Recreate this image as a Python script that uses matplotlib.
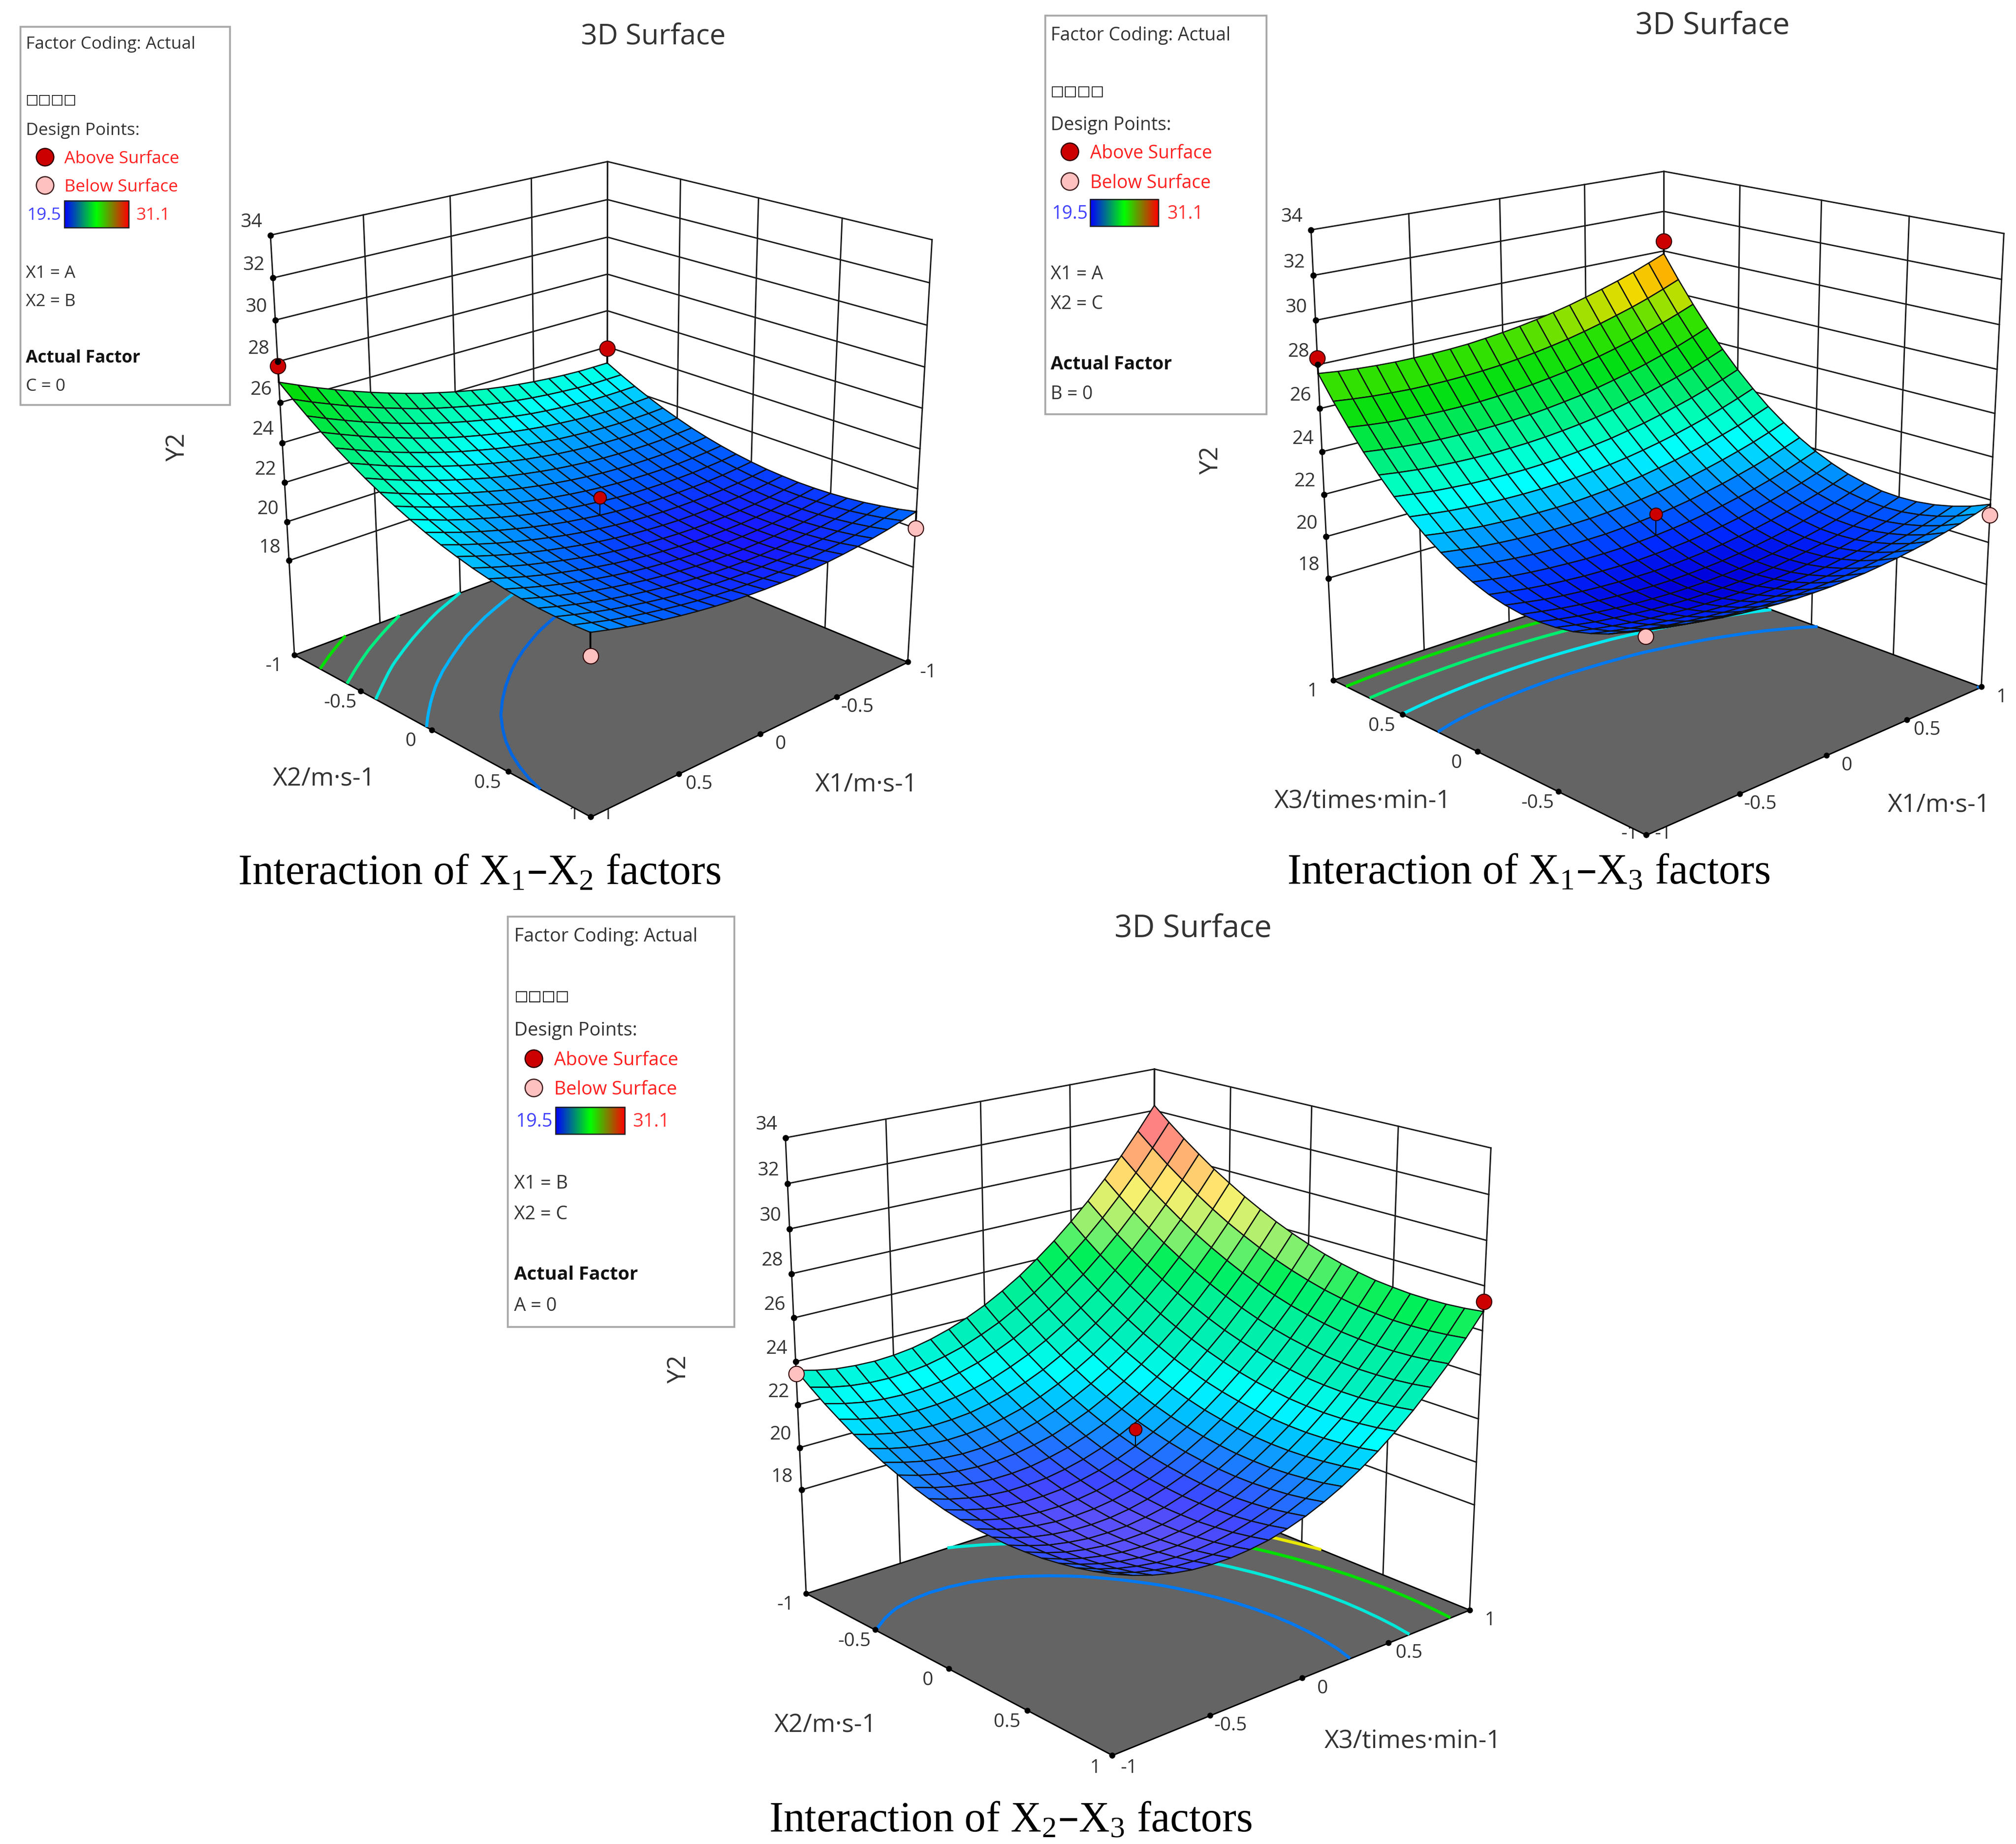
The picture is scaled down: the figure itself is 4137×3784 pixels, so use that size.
import numpy as np
import matplotlib
matplotlib.use('Agg')
import matplotlib.pyplot as plt
from matplotlib.colors import LinearSegmentedColormap, Normalize
from matplotlib.patches import Rectangle
from mpl_toolkits.mplot3d import proj3d

plt.rcParams['font.family'] = ['Open Sans', 'DejaVu Sans']
plt.rcParams['mathtext.default'] = 'regular'

# Coded factor levels of the mesh nodes
coded = [-1.0, -0.9, -0.8, -0.7, -0.6, -0.5, -0.4, -0.3, -0.2, -0.1, 0.0,
         0.1, 0.2, 0.3, 0.4, 0.5, 0.6, 0.7, 0.8, 0.9, 1.0]
axis_ticks = [-1, -0.5, 0, 0.5, 1]
y2_ticks = [18, 20, 22, 24, 26, 28, 30, 32, 34]
y2_floor = 13

y2_x1x2 = [
    [23.10, 23.10, 23.11, 23.15, 23.21, 23.29, 23.39, 23.51, 23.65, 23.82, 24.00, 24.21, 24.43, 24.68, 24.95, 25.24, 25.55, 25.88, 26.23, 26.61, 27.00],
    [22.69, 22.68, 22.68, 22.71, 22.77, 22.84, 22.93, 23.04, 23.18, 23.33, 23.51, 23.71, 23.92, 24.16, 24.43, 24.71, 25.01, 25.33, 25.68, 26.04, 26.43],
    [22.31, 22.29, 22.29, 22.31, 22.36, 22.42, 22.50, 22.60, 22.73, 22.88, 23.05, 23.24, 23.45, 23.68, 23.94, 24.21, 24.50, 24.81, 25.15, 25.51, 25.89],
    [21.96, 21.93, 21.92, 21.93, 21.97, 22.03, 22.11, 22.20, 22.32, 22.46, 22.62, 22.80, 23.00, 23.22, 23.47, 23.74, 24.03, 24.33, 24.66, 25.01, 25.38],
    [21.64, 21.60, 21.59, 21.59, 21.62, 21.67, 21.74, 21.82, 21.93, 22.07, 22.22, 22.39, 22.59, 22.80, 23.04, 23.30, 23.58, 23.87, 24.19, 24.54, 24.90],
    [21.36, 21.32, 21.29, 21.29, 21.31, 21.35, 21.41, 21.49, 21.59, 21.72, 21.86, 22.03, 22.21, 22.42, 22.65, 22.90, 23.17, 23.46, 23.77, 24.11, 24.46],
    [21.10, 21.05, 21.01, 21.00, 21.02, 21.05, 21.10, 21.17, 21.27, 21.38, 21.52, 21.68, 21.85, 22.05, 22.28, 22.52, 22.78, 23.06, 23.37, 23.69, 24.04],
    [20.88, 20.82, 20.78, 20.76, 20.77, 20.79, 20.83, 20.89, 20.98, 21.09, 21.22, 21.37, 21.54, 21.73, 21.95, 22.18, 22.43, 22.70, 23.00, 23.32, 23.66],
    [20.69, 20.62, 20.57, 20.54, 20.54, 20.56, 20.60, 20.65, 20.73, 20.83, 20.95, 21.09, 21.25, 21.43, 21.64, 21.87, 22.12, 22.38, 22.67, 22.98, 23.31],
    [20.53, 20.45, 20.40, 20.36, 20.35, 20.36, 20.39, 20.43, 20.50, 20.60, 20.71, 20.84, 21.00, 21.17, 21.37, 21.59, 21.83, 22.08, 22.36, 22.67, 22.99],
    [20.40, 20.32, 20.25, 20.21, 20.19, 20.19, 20.21, 20.25, 20.31, 20.40, 20.50, 20.63, 20.77, 20.94, 21.13, 21.34, 21.57, 21.82, 22.09, 22.39, 22.70],
    [20.30, 20.21, 20.13, 20.08, 20.06, 20.05, 20.06, 20.09, 20.15, 20.22, 20.32, 20.44, 20.57, 20.73, 20.92, 21.12, 21.34, 21.58, 21.85, 22.13, 22.44],
    [20.24, 20.14, 20.06, 20.00, 19.97, 19.95, 19.95, 19.97, 20.02, 20.09, 20.18, 20.29, 20.42, 20.57, 20.75, 20.94, 21.15, 21.38, 21.64, 21.92, 22.22],
    [20.20, 20.09, 20.00, 19.93, 19.89, 19.87, 19.87, 19.88, 19.92, 19.98, 20.06, 20.16, 20.28, 20.42, 20.59, 20.78, 20.99, 21.21, 21.46, 21.73, 22.02],
    [20.20, 20.08, 19.99, 19.91, 19.86, 19.83, 19.82, 19.82, 19.85, 19.91, 19.98, 20.07, 20.19, 20.32, 20.48, 20.66, 20.86, 21.07, 21.31, 21.58, 21.86],
    [20.23, 20.11, 20.00, 19.92, 19.86, 19.82, 19.80, 19.80, 19.82, 19.87, 19.93, 20.02, 20.12, 20.25, 20.40, 20.57, 20.76, 20.97, 21.20, 21.46, 21.73],
    [20.29, 20.16, 20.04, 19.95, 19.89, 19.84, 19.81, 19.80, 19.82, 19.85, 19.91, 19.99, 20.08, 20.20, 20.35, 20.51, 20.69, 20.89, 21.12, 21.36, 21.63],
    [20.38, 20.24, 20.12, 20.02, 19.95, 19.89, 19.85, 19.83, 19.84, 19.87, 19.92, 19.99, 20.08, 20.19, 20.33, 20.48, 20.65, 20.84, 21.06, 21.30, 21.56],
    [20.51, 20.36, 20.23, 20.12, 20.04, 19.98, 19.93, 19.91, 19.91, 19.93, 19.97, 20.03, 20.11, 20.21, 20.34, 20.49, 20.66, 20.84, 21.05, 21.28, 21.53],
    [20.66, 20.50, 20.37, 20.25, 20.16, 20.09, 20.04, 20.00, 19.99, 20.01, 20.04, 20.09, 20.17, 20.26, 20.38, 20.52, 20.68, 20.85, 21.05, 21.28, 21.52],
    [20.85, 20.69, 20.54, 20.42, 20.32, 20.24, 20.18, 20.14, 20.12, 20.13, 20.15, 20.20, 20.26, 20.35, 20.46, 20.59, 20.74, 20.91, 21.10, 21.32, 21.55],
]

y2_x1x3 = [
    [21.70, 21.50, 21.31, 21.16, 21.02, 20.91, 20.81, 20.74, 20.68, 20.66, 20.65, 20.67, 20.70, 20.77, 20.85, 20.96, 21.08, 21.23, 21.39, 21.59, 21.80],
    [21.25, 21.05, 20.87, 20.72, 20.59, 20.48, 20.39, 20.32, 20.27, 20.25, 20.25, 20.27, 20.31, 20.38, 20.47, 20.58, 20.71, 20.86, 21.03, 21.23, 21.45],
    [20.87, 20.68, 20.50, 20.36, 20.24, 20.13, 20.05, 19.98, 19.94, 19.92, 19.93, 19.96, 20.00, 20.08, 20.17, 20.29, 20.43, 20.58, 20.76, 20.96, 21.19],
    [20.58, 20.39, 20.22, 20.08, 19.96, 19.86, 19.79, 19.73, 19.69, 19.68, 19.69, 19.72, 19.77, 19.85, 19.96, 20.08, 20.22, 20.38, 20.56, 20.77, 21.00],
    [20.35, 20.17, 20.01, 19.87, 19.76, 19.67, 19.59, 19.54, 19.51, 19.50, 19.52, 19.56, 19.61, 19.70, 19.81, 19.93, 20.08, 20.25, 20.43, 20.65, 20.89],
    [20.22, 20.04, 19.88, 19.76, 19.65, 19.56, 19.49, 19.44, 19.42, 19.42, 19.44, 19.48, 19.54, 19.64, 19.75, 19.88, 20.03, 20.20, 20.40, 20.62, 20.86],
    [20.16, 19.98, 19.83, 19.71, 19.61, 19.52, 19.46, 19.42, 19.40, 19.40, 19.43, 19.48, 19.55, 19.64, 19.76, 19.90, 20.05, 20.23, 20.43, 20.66, 20.90],
    [20.18, 20.02, 19.87, 19.75, 19.65, 19.58, 19.52, 19.48, 19.46, 19.48, 19.51, 19.56, 19.64, 19.74, 19.86, 20.00, 20.17, 20.35, 20.55, 20.79, 21.04],
    [20.28, 20.12, 19.97, 19.86, 19.77, 19.70, 19.65, 19.62, 19.60, 19.62, 19.66, 19.72, 19.80, 19.91, 20.03, 20.18, 20.35, 20.54, 20.75, 20.98, 21.24],
    [20.45, 20.30, 20.16, 20.05, 19.97, 19.90, 19.86, 19.83, 19.82, 19.85, 19.89, 19.95, 20.04, 20.15, 20.28, 20.44, 20.61, 20.81, 21.02, 21.26, 21.53],
    [20.71, 20.56, 20.43, 20.33, 20.25, 20.19, 20.14, 20.12, 20.12, 20.15, 20.20, 20.27, 20.36, 20.48, 20.62, 20.78, 20.95, 21.15, 21.37, 21.62, 21.89],
    [21.05, 20.90, 20.78, 20.68, 20.60, 20.55, 20.51, 20.50, 20.50, 20.54, 20.59, 20.66, 20.76, 20.88, 21.03, 21.19, 21.38, 21.58, 21.81, 22.06, 22.33],
    [21.46, 21.32, 21.20, 21.11, 21.04, 20.99, 20.96, 20.95, 20.96, 21.00, 21.06, 21.14, 21.24, 21.37, 21.52, 21.69, 21.88, 22.09, 22.32, 22.58, 22.86],
    [21.95, 21.81, 21.70, 21.61, 21.55, 21.50, 21.48, 21.47, 21.49, 21.54, 21.60, 21.69, 21.79, 21.93, 22.08, 22.26, 22.45, 22.67, 22.90, 23.17, 23.45],
    [22.52, 22.40, 22.29, 22.21, 22.15, 22.11, 22.09, 22.09, 22.11, 22.16, 22.23, 22.32, 22.43, 22.57, 22.73, 22.91, 23.11, 23.33, 23.58, 23.85, 24.14],
    [23.17, 23.05, 22.94, 22.87, 22.81, 22.78, 22.77, 22.77, 22.80, 22.85, 22.93, 23.03, 23.14, 23.29, 23.45, 23.64, 23.85, 24.07, 24.32, 24.59, 24.89],
    [23.90, 23.78, 23.68, 23.61, 23.56, 23.53, 23.52, 23.54, 23.57, 23.63, 23.71, 23.81, 23.93, 24.08, 24.26, 24.45, 24.66, 24.89, 25.14, 25.42, 25.72],
    [24.70, 24.59, 24.50, 24.43, 24.39, 24.37, 24.36, 24.38, 24.42, 24.48, 24.57, 24.68, 24.80, 24.96, 25.14, 25.33, 25.55, 25.79, 26.04, 26.33, 26.64],
    [25.59, 25.48, 25.39, 25.34, 25.30, 25.28, 25.28, 25.30, 25.35, 25.42, 25.51, 25.62, 25.75, 25.92, 26.10, 26.30, 26.52, 26.77, 27.03, 27.32, 27.63],
    [26.55, 26.45, 26.37, 26.32, 26.28, 26.27, 26.28, 26.31, 26.36, 26.43, 26.53, 26.65, 26.79, 26.95, 27.14, 27.35, 27.58, 27.82, 28.09, 28.39, 28.71],
    [27.60, 27.50, 27.43, 27.38, 27.35, 27.35, 27.36, 27.39, 27.44, 27.53, 27.63, 27.75, 27.90, 28.07, 28.26, 28.48, 28.71, 28.96, 29.23, 29.54, 29.86],
]

y2_x2x3 = [
    [23.60, 23.09, 22.61, 22.18, 21.77, 21.42, 21.09, 20.82, 20.57, 20.37, 20.20, 20.08, 19.99, 19.95, 19.93, 19.97, 20.03, 20.15, 20.29, 20.48, 20.70],
    [23.37, 22.85, 22.37, 21.93, 21.52, 21.16, 20.83, 20.54, 20.29, 20.08, 19.91, 19.78, 19.69, 19.64, 19.62, 19.64, 19.70, 19.81, 19.95, 20.13, 20.35],
    [23.20, 22.68, 22.19, 21.74, 21.32, 20.96, 20.62, 20.33, 20.08, 19.86, 19.68, 19.54, 19.44, 19.39, 19.36, 19.38, 19.44, 19.54, 19.67, 19.84, 20.06],
    [23.12, 22.58, 22.09, 21.63, 21.21, 20.84, 20.50, 20.20, 19.94, 19.71, 19.53, 19.39, 19.28, 19.22, 19.19, 19.20, 19.25, 19.34, 19.47, 19.64, 19.84],
    [23.09, 22.55, 22.05, 21.59, 21.16, 20.78, 20.43, 20.13, 19.86, 19.63, 19.44, 19.29, 19.18, 19.11, 19.07, 19.08, 19.12, 19.21, 19.33, 19.49, 19.69],
    [23.14, 22.59, 22.09, 21.62, 21.19, 20.80, 20.44, 20.14, 19.86, 19.63, 19.43, 19.27, 19.16, 19.08, 19.04, 19.04, 19.07, 19.16, 19.27, 19.43, 19.62],
    [23.25, 22.70, 22.19, 21.72, 21.27, 20.88, 20.52, 20.21, 19.92, 19.68, 19.48, 19.32, 19.20, 19.11, 19.06, 19.06, 19.09, 19.16, 19.27, 19.42, 19.61],
    [23.44, 22.89, 22.37, 21.89, 21.44, 21.04, 20.67, 20.36, 20.07, 19.82, 19.61, 19.44, 19.31, 19.22, 19.17, 19.16, 19.18, 19.25, 19.35, 19.49, 19.68],
    [23.70, 23.13, 22.61, 22.12, 21.67, 21.26, 20.89, 20.56, 20.27, 20.02, 19.80, 19.63, 19.49, 19.40, 19.33, 19.32, 19.33, 19.40, 19.49, 19.63, 19.80],
    [24.03, 23.46, 22.93, 22.44, 21.97, 21.56, 21.18, 20.85, 20.55, 20.29, 20.07, 19.89, 19.75, 19.65, 19.58, 19.56, 19.57, 19.62, 19.71, 19.84, 20.01],
    [24.42, 23.84, 23.31, 22.81, 22.34, 21.93, 21.54, 21.20, 20.89, 20.63, 20.40, 20.21, 20.07, 19.96, 19.88, 19.86, 19.86, 19.91, 19.99, 20.12, 20.28],
    [24.89, 24.31, 23.77, 23.26, 22.79, 22.37, 21.97, 21.63, 21.32, 21.04, 20.81, 20.62, 20.46, 20.35, 20.27, 20.23, 20.23, 20.28, 20.35, 20.47, 20.63],
    [25.42, 24.83, 24.29, 23.78, 23.30, 22.87, 22.47, 22.12, 21.80, 21.52, 21.28, 21.08, 20.92, 20.80, 20.71, 20.67, 20.66, 20.70, 20.78, 20.88, 21.04],
    [26.04, 25.44, 24.89, 24.37, 23.88, 23.45, 23.04, 22.69, 22.36, 22.08, 21.83, 21.62, 21.46, 21.33, 21.24, 21.19, 21.18, 21.21, 21.28, 21.38, 21.52],
    [26.71, 26.11, 25.54, 25.02, 24.53, 24.09, 23.68, 23.32, 22.98, 22.69, 22.44, 22.23, 22.06, 21.93, 21.82, 21.77, 21.75, 21.78, 21.84, 21.93, 22.07],
    [27.46, 26.85, 26.28, 25.76, 25.26, 24.81, 24.39, 24.02, 23.69, 23.39, 23.13, 22.91, 22.73, 22.60, 22.49, 22.43, 22.40, 22.42, 22.48, 22.57, 22.70],
    [28.27, 27.66, 27.08, 26.55, 26.05, 25.59, 25.17, 24.79, 24.45, 24.14, 23.88, 23.66, 23.47, 23.33, 23.21, 23.15, 23.12, 23.13, 23.18, 23.26, 23.39],
    [29.16, 28.54, 27.96, 27.42, 26.91, 26.45, 26.02, 25.64, 25.29, 24.98, 24.71, 24.48, 24.29, 24.14, 24.02, 23.95, 23.91, 23.92, 23.96, 24.04, 24.16],
    [30.12, 29.49, 28.90, 28.36, 27.84, 27.37, 26.94, 26.55, 26.19, 25.88, 25.60, 25.36, 25.17, 25.01, 24.88, 24.81, 24.76, 24.76, 24.80, 24.87, 24.98],
    [31.15, 30.52, 29.92, 29.37, 28.85, 28.37, 27.93, 27.54, 27.18, 26.85, 26.57, 26.33, 26.12, 25.96, 25.83, 25.75, 25.69, 25.69, 25.72, 25.79, 25.89],
    [32.24, 31.60, 31.00, 30.44, 29.91, 29.44, 28.99, 28.59, 28.22, 27.89, 27.60, 27.35, 27.14, 26.97, 26.83, 26.75, 26.69, 26.68, 26.70, 26.76, 26.86],
]

# Design points: first factor, second factor, Y2
above_x1x2 = [(1.0, -1.0, 27.8), (-1.0, -1.0, 23.9), (0.0, 0.0, 21.4)]
below_x1x2 = [(-1.0, 1.0, 20.0), (1.0, 1.0, 20.5)]
above_x1x3 = [(-1.0, 1.0, 28.3), (1.0, 1.0, 30.5), (0.0, 0.0, 21.2)]
below_x1x3 = [(1.0, -1.0, 21.3), (-1.0, -1.0, 21.4)]
above_x2x3 = [(1.0, 1.0, 27.3), (0.0, 0.0, 21.2)]
below_x2x3 = [(-1.0, -1.0, 23.45)]

# Contour levels on the floor and their colours
levels_x1x2 = [21.56, 22.8, 24.0, 24.9, 25.9]
colors_x1x2 = ['#0066e0', '#00b4ff', '#00e8d8', '#00ee80', '#00e000']
levels_x1x3 = [21.75, 23.2, 25.0, 26.6]
colors_x1x3 = ['#0078f0', '#00e8f0', '#00ee70', '#00e000']
levels_x2x3 = [21.4, 23.6, 25.7, 27.3]
colors_x2x3 = ['#0078f0', '#00e8d8', '#00e000', '#e8e800']

# Surface colour scales, the third surface is paler
z_stops_x1x2 = [19.8, 20.4, 21.0, 21.8, 22.6, 23.5, 24.5, 25.5, 26.5, 27.2]
c_stops_x1x2 = ['#1818ff', '#0050ff', '#0078ff', '#00aaff', '#00ffff', '#00ffbe', '#00f080', '#00e840',
                '#00dc0a', '#20dc00']
z_stops_x1x3 = [19.4, 20.0, 20.5, 21.2, 22.4, 23.5, 24.5, 25.7, 27.0, 27.7, 28.5, 29.3, 29.9]
c_stops_x1x3 = ['#0000dc', '#0028ff', '#0050ff', '#008cff', '#00ffff', '#00ffbe', '#00eb6e', '#00e014',
                '#32e100', '#96e100', '#f0dc00', '#ffaa00', '#ff8200']
z_stops_x2x3 = [19.1, 19.6, 20.4, 21.4, 22.3, 23.5, 25.0, 26.2, 27.0, 28.0, 28.9, 30.0, 31.0]
c_stops_x2x3 = ['#5a50fa', '#3c46ff', '#1e78ff', '#00beff', '#00ffff', '#00f0be', '#00f096', '#00f05a',
                '#6ef06e', '#bef06e', '#fff06e', '#ffbe6e', '#ff8282']

W, H = 4137, 3784
DW, DH = 1568.0, 1434.0  # layout units used for placing things
LINE = '#1a1a1a'
TEXT = '#333333'

fig = plt.figure(figsize=(W / 300, H / 300), dpi=300, facecolor='white')
sheet = fig.add_axes([0, 0, 1, 1])
sheet.set_xlim(0, DW)
sheet.set_ylim(DH, 0)
sheet.axis('off')


def make_cmap(zs, cols):
    lo, hi = zs[0], zs[-1]
    pos = [(z - lo) / (hi - lo) for z in zs]
    return LinearSegmentedColormap.from_list('y2', list(zip(pos, cols))), Normalize(lo, hi)


def to_view(ax, xs, ys, zs):
    px, py, _ = proj3d.proj_transform(np.array(xs, float), np.array(ys, float),
                                      np.array(zs, float), ax.get_proj())
    return ax.transLimits.transform(np.c_[px, py])


def fit_axes(ax, left, right, left_px, right_px):
    # scale and shift the square axes so the floor corners land where they should
    (ul, vl), (ur, vr) = to_view(ax, [left[0], right[0]], [left[1], right[1]], [y2_floor, y2_floor])
    xl, xr = left_px[0] * W / DW, right_px[0] * W / DW
    yl, yr = H - left_px[1] * H / DH, H - right_px[1] * H / DH
    s = (xr - xl) / (ur - ul)
    x0 = xl - ul * s
    y0 = 0.5 * (yl - vl * s + yr - vr * s)
    ax.set_position([x0 / W, y0 / H, s / W, s / H])
    return x0, y0, s


def surface_panel(table, above, below, levels, level_colors, scale, xb, yb, left, view,
                  left_px, right_px, front_dy):
    elev, azim, zbox, focal = view
    X, Y = np.meshgrid(coded, coded)
    Z = np.array(table)
    xf, yf = -xb, -yb
    right = (-left[0], -left[1])

    ax = fig.add_axes([0, 0, 1, 1], projection='3d', computed_zorder=False)
    ax.set_facecolor('none')
    ax.set_axis_off()
    ax.view_init(elev=elev, azim=azim)
    ax.set_box_aspect((1, 1, zbox))
    ax.set_proj_type('persp', focal_length=focal)

    # back walls
    for t in axis_ticks:
        ax.plot([t, t], [yb, yb], [y2_floor, y2_ticks[-1]], color=LINE, lw=0.7, zorder=1)
        ax.plot([xb, xb], [t, t], [y2_floor, y2_ticks[-1]], color=LINE, lw=0.7, zorder=1)
    for z in y2_ticks:
        ax.plot([-1, 1], [yb, yb], [z, z], color=LINE, lw=0.7, zorder=1)
        ax.plot([xb, xb], [-1, 1], [z, z], color=LINE, lw=0.7, zorder=1)

    # floor
    ax.plot_surface(np.array([[-1, 1], [-1, 1]]), np.array([[-1, -1], [1, 1]]),
                    np.full((2, 2), float(y2_floor)), color='#646464', shade=False,
                    edgecolor='black', linewidth=0.7, zorder=2)
    ax.contour(X, Y, Z, levels=levels, colors=level_colors, linewidths=1.5,
               zdir='z', offset=y2_floor, zorder=3)

    # surface
    cmap, norm = make_cmap(*scale)
    ax.plot_surface(X, Y, Z, rstride=1, cstride=1, cmap=cmap, norm=norm, shade=False,
                    edgecolor='#101010', linewidth=0.6, antialiased=True, zorder=4)

    # design points with their stems
    for pts, face in ((above, '#cc0000'), (below, '#ffc0c0')):
        for px, py, pz in pts:
            zs = Z[coded.index(py)][coded.index(px)]
            corner = bool(px or py)
            ax.plot([px, px], [py, py], [pz, zs], color='black', lw=0.9 if corner else 0.5, zorder=5)
            ax.plot([px], [py], [pz], 'o', ms=7.6 if corner else 6.2, mfc=face,
                    mec='#300000', mew=0.5, zorder=6)

    # dots on the floor edges and the left upright
    for t in axis_ticks:
        ax.plot([t], [yf], [y2_floor], 'o', ms=1.9, color='black', zorder=6)
        ax.plot([xf], [t], [y2_floor], 'o', ms=1.9, color='black', zorder=6)
    for z in y2_ticks:
        ax.plot([left[0]], [left[1]], [z], 'o', ms=2.1, color='black', zorder=6)

    ax.set_xlim(-1, 1)
    ax.set_ylim(-1, 1)
    ax.set_zlim(y2_floor, y2_ticks[-1])
    x0, y0, s = fit_axes(ax, left, right, left_px, right_px)

    # tick labels go on the sheet, next to the projected tick positions
    def label(px, py, pz, txt, dx, dy):
        u, v = to_view(ax, [px], [py], [pz])[0]
        sheet.text((x0 + u * s) * DW / W + dx, DH - (y0 + v * s) * DH / H + dy, txt,
                   fontsize=9.4, color=TEXT, ha='center', va='center')

    # edge along the x factor meets the floor at y = yf, edge along y at x = xf
    x_on_right = left[1] == yb
    for t in axis_ticks:
        dx_x, dy_x = (16, 8) if x_on_right else (-16, 9)
        dx_y, dy_y = (-16, 9) if x_on_right else (16, 8)
        if t == xf:
            dx_x, dy_x = (13 if x_on_right else -13), front_dy
        if t == yf:
            dx_y, dy_y = (-13 if x_on_right else 13), front_dy
        label(t, yf, y2_floor, '%g' % t, dx_x, dy_x)
        label(xf, t, y2_floor, '%g' % t, dx_y, dy_y)
    for z in y2_ticks:
        label(left[0], left[1], z, str(z), -15, -10)
    return ax


def legend_box(box, tx, rows, mx, lx, bar, hx, lines, fs):
    x0, y0, x1, y1 = box
    sheet.add_patch(Rectangle((x0, y0), x1 - x0, y1 - y0, fc='white', ec='#a8a8a8', lw=0.9))
    rows = [r + 1.5 for r in rows]
    sheet.text(tx, rows[0], 'Factor Coding: Actual', fontsize=fs, color=TEXT, va='center')
    sheet.text(tx, rows[1], '\u25a1\u25a1\u25a1\u25a1', fontsize=fs * 0.78, color='black', va='center',
               family='DejaVu Sans', weight='bold')
    sheet.text(tx, rows[2], 'Design Points:', fontsize=fs, color=TEXT, va='center')
    sheet.plot([mx], [rows[3] - 1.5], 'o', ms=8.6, mfc='#cc0000', mec='#300000', mew=0.6)
    sheet.text(lx, rows[3], 'Above Surface', fontsize=fs, color='#ff2020', va='center')
    sheet.plot([mx], [rows[4] - 1.5], 'o', ms=8.6, mfc='#ffc0c0', mec='#402020', mew=0.6)
    sheet.text(lx, rows[4], 'Below Surface', fontsize=fs, color='#ff2020', va='center')
    sheet.text(tx + 1, rows[5], '19.5', fontsize=fs, color='#4040ff', va='center')
    bx0, by0, bx1, by1 = bar
    grad = LinearSegmentedColormap.from_list('bar', ['#0000ff', '#00ff00', '#ff0000'])
    sheet.imshow(np.linspace(0, 1, 128).reshape(1, -1), cmap=grad, aspect='auto',
                 extent=(bx0, bx1, by1, by0), zorder=3)
    sheet.add_patch(Rectangle((bx0, by0), bx1 - bx0, by1 - by0, fc='none', ec='#202020', lw=0.6, zorder=4))
    sheet.text(hx, rows[5], '31.1', fontsize=fs, color='#ff3030', va='center')
    sheet.text(tx, rows[6], lines[0], fontsize=fs, color=TEXT, va='center')
    sheet.text(tx, rows[7], lines[1], fontsize=fs, color=TEXT, va='center')
    sheet.text(tx, rows[8], 'Actual Factor', fontsize=fs, color='#111111', va='center', weight='bold')
    sheet.text(tx, rows[9], lines[2], fontsize=fs, color=TEXT, va='center')
    sheet.set_xlim(0, DW)
    sheet.set_ylim(DH, 0)


surface_panel(y2_x1x2, above_x1x2, below_x1x2, levels_x1x2, colors_x1x2, (z_stops_x1x2, c_stops_x1x2),
              -1, -1, (1, -1), (21, 46.5, 1.0, 0.52), (229, 507), (706, 517), -2)
surface_panel(y2_x1x3, above_x1x3, below_x1x3, levels_x1x3, colors_x1x3, (z_stops_x1x3, c_stops_x1x3),
              1, 1, (-1, 1), (17.7, 226.5, 1.0, 0.5), (1037, 530), (1541, 533), -1)
surface_panel(y2_x2x3, above_x2x3, below_x2x3, levels_x2x3, colors_x2x3, (z_stops_x2x3, c_stops_x2x3),
              -1, 1, (-1, -1), (18.9, -41.5, 1.0, 0.58), (627, 1241), (1143, 1250), 10)

legend_box((16, 21, 179, 315), 20, [33, 76, 100, 122, 144, 166, 211, 233, 277, 299], 35, 50,
           (50, 156, 100, 177), 106, ['X1 = A', 'X2 = B', 'C = 0'], 8.5)
legend_box((813, 12, 985, 322), 817, [26, 70, 96, 118, 141, 165, 212, 235, 282, 305], 832, 848,
           (848, 155, 901, 176), 908, ['X1 = A', 'X2 = C', 'B = 0'], 9.0)
legend_box((395, 713, 571, 1032), 400, [727, 773, 800, 823, 846, 871, 919, 943, 990, 1014], 415, 431,
           (432, 861, 486, 882), 492, ['X1 = B', 'X2 = C', 'A = 0'], 9.2)

# Titles, axis names and captions
for cx, cy, fs in [(508, 27, 14.1), (1332, 18, 15.0), (928, 720, 15.3)]:
    sheet.text(cx, cy + 2, '3D Surface', fontsize=fs, color=TEXT, ha='center', va='center')
for cx, cy in [(138, 348), (942, 358), (528, 1065)]:
    sheet.text(cx, cy, 'Y2', fontsize=12.4, color=TEXT, ha='center', va='center', rotation=90)
for cx, cy, s in [(252, 606, 'X2/m\u00b7s-1'), (674, 610, 'X1/m\u00b7s-1'),
                  (1060, 623, 'X3/times\u00b7min-1'), (1508, 626, 'X1/m\u00b7s-1'),
                  (642, 1342, 'X2/m\u00b7s-1'), (1099, 1354, 'X3/times\u00b7min-1')]:
    sheet.text(cx, cy, s, fontsize=12.4, color=TEXT, ha='center', va='center')
for cx, cy, s in [(373, 677, 'Interaction of X$_{1}$\u2013X$_{2}$ factors'),
                  (1189, 677, 'Interaction of X$_{1}$\u2013X$_{3}$ factors'),
                  (786, 1414, 'Interaction of X$_{2}$\u2013X$_{3}$ factors')]:
    sheet.text(cx, cy + 2, s, fontsize=21, color='black', ha='center', va='center',
               family='Liberation Serif')

fig.savefig('out.png', dpi=300, facecolor='white')
